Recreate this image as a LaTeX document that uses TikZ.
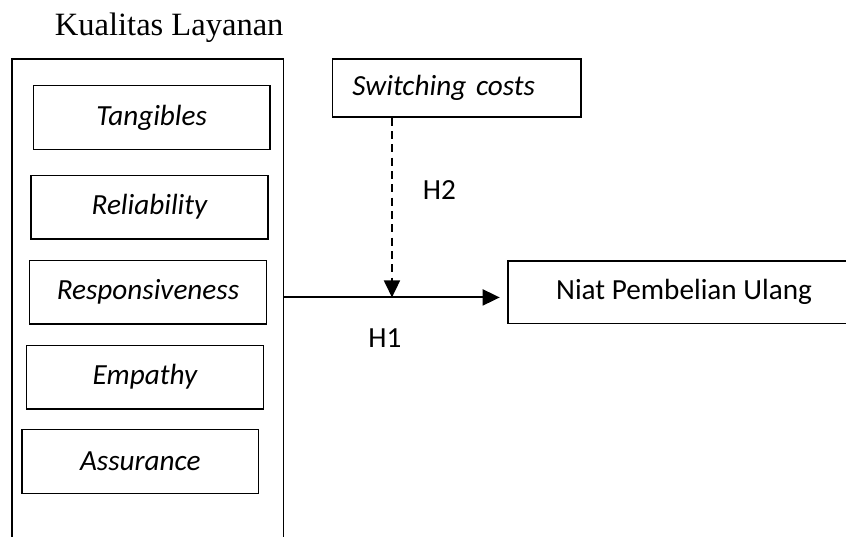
\documentclass[tikz,border=0pt,11pt]{standalone}
\usepackage{fontspec}
\setmainfont{Liberation Serif}
\newfontfamily\calibri{Carlito}
\usetikzlibrary{arrows.meta,positioning}

\begin{document}
\begin{tikzpicture}[
    dim/.style={rectangle,draw,line width=0.5pt,minimum width=3.12cm,minimum height=0.84cm,inner sep=0pt,font=\calibri\itshape},
    box/.style={rectangle,draw,line width=0.5pt,inner sep=0pt,font=\calibri},
    arr/.style={-{Triangle[length=6.4pt,width=6pt]},line width=0.75pt},
    lab/.style={font=\calibri},
]
\useasboundingbox (0,0) rectangle (11.15,-7.077);

% Kualitas Layanan
\node[font=\fontsize{12.2}{14}\selectfont] (title) at (2.23,-0.36) {Kualitas Layanan};
\coordinate (kltop) at (3.736,-0.778);
\draw[line width=0.5pt] (0.158,-7.1) |- (kltop) -- (3.736,-7.1);
\node[dim] (tang) at (2.00,-1.55) {Tangibles};
\node[dim] (reli) at (1.97,-2.73) {Reliability};
\node[dim] (resp) at (1.95,-3.85) {Responsiveness};
\node[dim] (emp) at (1.91,-4.97) {Empathy};
\node[dim] (assu) at (1.85,-6.08) {Assurance};

% Switching costs and Niat
\node[box,font=\calibri\itshape,text width=2.75cm,inner xsep=0.264cm,minimum height=0.764cm,align=left] (sw) at (6.02,-1.16) {Switching costs};
\node[box,minimum width=4.64cm,minimum height=0.82cm] (niat) at (9.015,-3.85) {Niat Pembelian Ulang};

% Paths
\coordinate (out) at (3.736,-3.92);
\coordinate (mod) at (5.166,-3.92);
\draw[arr,shorten >=0.1cm] (out) -- (out -| niat.west);
\draw[arr,dash pattern=on 3pt off 2pt] (sw.south -| mod) -- (mod);
\node[lab] (h2) at (5.79,-2.50) {H2};
\node[lab] (h1) at (5.074,-4.45) {H1};
\end{tikzpicture}
\end{document}
